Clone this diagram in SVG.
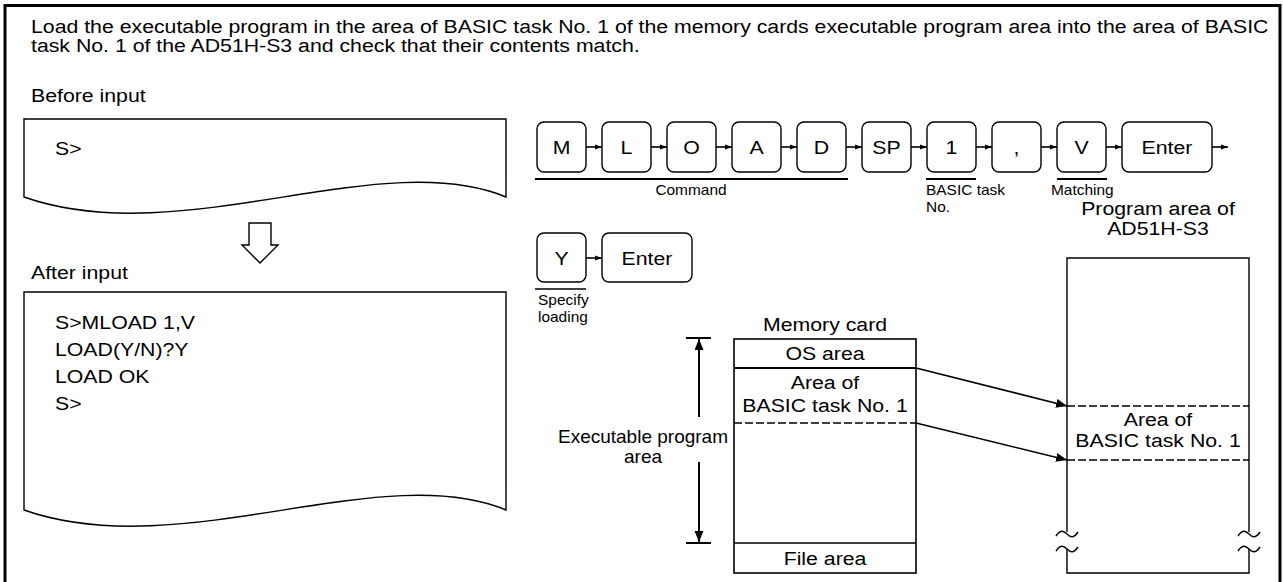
<svg xmlns="http://www.w3.org/2000/svg" width="1283" height="582" viewBox="0 0 1283 582">
<defs>
<style>
.t{font-family:"Liberation Sans",Arial,sans-serif;font-size:19px;fill:#000}
.s{font-size:13.8px}
.m{text-anchor:middle}
.ln{fill:none;stroke:#000;stroke-width:1.4}
.key{fill:#fff;stroke:#000;stroke-width:1.4}
.dash{fill:none;stroke:#000;stroke-width:1.6;stroke-dasharray:8 3}
.bar{fill:none;stroke:#000;stroke-width:2}
</style>
<marker id="ak" markerUnits="userSpaceOnUse" markerWidth="8" markerHeight="6" refX="7" refY="3" orient="auto"><path d="M0,0.5 L7,3 L0,5.5 z" fill="#000"/></marker>
<marker id="ab" markerUnits="userSpaceOnUse" markerWidth="12" markerHeight="10" refX="11" refY="4.5" orient="auto"><path d="M0,0 L11,4.5 L0,9 z" fill="#000"/></marker>
</defs>
<rect width="1283" height="582" fill="#fff"/>
<path d="M5,590 V5.5 H1280 V590" fill="none" stroke="#000" stroke-width="3"/>

<g id="title">
<text class="t" transform="translate(31,33) scale(1.12,1)">Load the executable program in the area of BASIC task No. 1 of the memory cards executable program area into the area of BASIC</text>
<text class="t" transform="translate(31,52) scale(1.12,1)">task No. 1 of the AD51H-S3 and check that their contents match.</text>
</g>

<g id="before">
<text class="t" transform="translate(31,102) scale(1.12,1)">Before input</text>
<path class="ln" d="M24,119 H506 V197 C380,145 180,252 24,197 Z" fill="#fff"/>
<text class="t" transform="translate(55,155) scale(1.12,1)">S&gt;</text>
</g>

<g id="down-arrow">
<polygon points="249,223 271,223 271,245 278,245 260,263 242,245 249,245" fill="#fff" stroke="#000" stroke-width="1.4"/>
</g>

<g id="after">
<text class="t" transform="translate(31,279) scale(1.12,1)">After input</text>
<path class="ln" d="M24,292 H506 V510 C380,458 180,565 24,510 Z" fill="#fff"/>
<text class="t" transform="translate(55,329) scale(1.12,1)">S&gt;MLOAD 1,V</text>
<text class="t" transform="translate(55,356) scale(1.12,1)">LOAD(Y/N)?Y</text>
<text class="t" transform="translate(55,383) scale(1.12,1)">LOAD OK</text>
<text class="t" transform="translate(55,410) scale(1.12,1)">S&gt;</text>
</g>

<g id="key-M"><rect class="key" x="537" y="122" width="49" height="50" rx="7"/><text class="t m" transform="translate(561.5,154) scale(1.12,1)">M</text></g>
<g id="key-L"><rect class="key" x="602" y="122" width="49" height="50" rx="7"/><text class="t m" transform="translate(626.5,154) scale(1.12,1)">L</text></g>
<g id="key-O"><rect class="key" x="667" y="122" width="49" height="50" rx="7"/><text class="t m" transform="translate(691.5,154) scale(1.12,1)">O</text></g>
<g id="key-A"><rect class="key" x="732" y="122" width="49" height="50" rx="7"/><text class="t m" transform="translate(756.5,154) scale(1.12,1)">A</text></g>
<g id="key-D"><rect class="key" x="797" y="122" width="49" height="50" rx="7"/><text class="t m" transform="translate(821.5,154) scale(1.12,1)">D</text></g>
<g id="key-SP"><rect class="key" x="862" y="122" width="49" height="50" rx="7"/><text class="t m" transform="translate(886.5,154) scale(1.12,1)">SP</text></g>
<g id="key-1"><rect class="key" x="927" y="122" width="49" height="50" rx="7"/><text class="t m" transform="translate(951.5,154) scale(1.12,1)">1</text></g>
<g id="key-comma"><rect class="key" x="992" y="122" width="49" height="50" rx="7"/><text class="t m" transform="translate(1016.5,154) scale(1.12,1)">,</text></g>
<g id="key-V"><rect class="key" x="1057" y="122" width="49" height="50" rx="7"/><text class="t m" transform="translate(1081.5,154) scale(1.12,1)">V</text></g>
<g id="key-Enter1"><rect class="key" x="1122" y="122" width="90" height="50" rx="7"/><text class="t m" transform="translate(1167,154) scale(1.12,1)">Enter</text></g>
<g id="key-Y"><rect class="key" x="537" y="233" width="49" height="49" rx="7"/><text class="t m" transform="translate(561.5,265) scale(1.12,1)">Y</text></g>
<g id="key-Enter2"><rect class="key" x="602" y="233" width="90" height="49" rx="7"/><text class="t m" transform="translate(647,265) scale(1.12,1)">Enter</text></g>

<g id="key-labels">
<line class="bar" x1="535" y1="179" x2="848" y2="179"/>
<text class="t s m" transform="translate(691,195) scale(1.12,1)">Command</text>
<line class="bar" x1="926" y1="179" x2="976" y2="179"/>
<text class="t s" transform="translate(926,195) scale(1.12,1)">BASIC task</text>
<text class="t s" transform="translate(926,212) scale(1.12,1)">No.</text>
<line class="bar" x1="1057" y1="179" x2="1107" y2="179"/>
<text class="t s" transform="translate(1051,195) scale(1.12,1)">Matching</text>
<line x1="535" y1="289" x2="586" y2="289" stroke="#000" stroke-width="1.3"/>
<text class="t s" transform="translate(538,305) scale(1.12,1)">Specify</text>
<text class="t s" transform="translate(538,322) scale(1.12,1)">loading</text>
</g>

<g id="memory-card">
<text class="t m" transform="translate(825,331) scale(1.12,1)">Memory card</text>
<rect x="734" y="339" width="182" height="234" fill="#fff" stroke="#000" stroke-width="1.6"/>
<line x1="734" y1="368" x2="916" y2="368" stroke="#000" stroke-width="2"/>
<text class="t m" transform="translate(825,360) scale(1.12,1)">OS area</text>
<text class="t m" transform="translate(825,389) scale(1.12,1)">Area of</text>
<text class="t m" transform="translate(825,412) scale(1.12,1)">BASIC task No. 1</text>
<line class="dash" x1="734" y1="423" x2="916" y2="423"/>
<line x1="734" y1="543" x2="916" y2="543" stroke="#000" stroke-width="1.6"/>
<text class="t m" transform="translate(825,565) scale(1.12,1)">File area</text>
</g>

<g id="exec-area">
<line x1="686" y1="338" x2="711" y2="338" stroke="#000" stroke-width="2"/>
<line x1="686" y1="543" x2="711" y2="543" stroke="#000" stroke-width="2"/>
<text class="t m" x="643" y="443">Executable program</text>
<text class="t m" x="643" y="463">area</text>
</g>

<g id="ad51">
<text class="t m" transform="translate(1158,215) scale(1.12,1)">Program area of</text>
<text class="t m" transform="translate(1158,235) scale(1.12,1)">AD51H-S3</text>
<path class="ln" d="M1067,532 V258 H1249 V532" stroke-width="1.6"/>
<path class="ln" d="M1067,549 V573 H1249 V549" stroke-width="1.6"/>
<path class="ln" d="M1056,536 C1060,530 1063,530 1067,534 S1074,538 1078,532 M1056,551 C1060,545 1063,545 1067,549 S1074,553 1078,547"/>
<path class="ln" d="M1238,536 C1242,530 1245,530 1249,534 S1256,538 1260,532 M1238,551 C1242,545 1245,545 1249,549 S1256,553 1260,547"/>
<line class="dash" x1="1067" y1="406" x2="1249" y2="406"/>
<line class="dash" x1="1067" y1="460" x2="1249" y2="460"/>
<text class="t m" transform="translate(1158,426) scale(1.12,1)">Area of</text>
<text class="t m" transform="translate(1158,447) scale(1.12,1)">BASIC task No. 1</text>
</g>

<g id="connectors" stroke="#000" stroke-width="1.6" fill="none">
<line x1="586" y1="147" x2="602" y2="147" marker-end="url(#ak)"/>
<line x1="651" y1="147" x2="667" y2="147" marker-end="url(#ak)"/>
<line x1="716" y1="147" x2="732" y2="147" marker-end="url(#ak)"/>
<line x1="781" y1="147" x2="797" y2="147" marker-end="url(#ak)"/>
<line x1="846" y1="147" x2="862" y2="147" marker-end="url(#ak)"/>
<line x1="911" y1="147" x2="927" y2="147" marker-end="url(#ak)"/>
<line x1="976" y1="147" x2="992" y2="147" marker-end="url(#ak)"/>
<line x1="1041" y1="147" x2="1057" y2="147" marker-end="url(#ak)"/>
<line x1="1106" y1="147" x2="1122" y2="147" marker-end="url(#ak)"/>
<line x1="1212" y1="147" x2="1228" y2="147" marker-end="url(#ak)"/>
<line x1="586" y1="258" x2="602" y2="258" marker-end="url(#ak)"/>
<line x1="699" y1="417" x2="699" y2="339" stroke-width="2" marker-end="url(#ab)"/>
<line x1="699" y1="462" x2="699" y2="542" stroke-width="2" marker-end="url(#ab)"/>
<line x1="916" y1="368" x2="1067" y2="406" marker-end="url(#ab)"/>
<line x1="916" y1="423" x2="1067" y2="460" marker-end="url(#ab)"/>
</g>
</svg>
